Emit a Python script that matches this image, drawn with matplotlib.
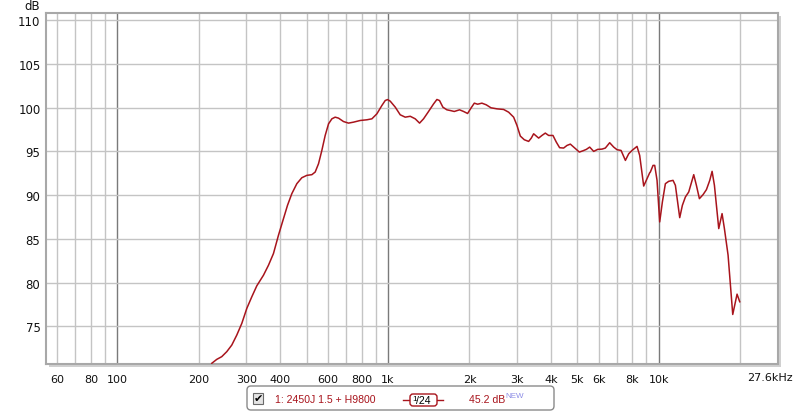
import matplotlib
matplotlib.use("Agg")
import matplotlib.pyplot as plt
from matplotlib.patches import FancyBboxPatch, Rectangle

freq_hz = [223.3, 233.0, 243.1, 253.7, 264.7, 276.2, 288.3, 300.8, 313.9, 327.5,
           346.6, 361.7, 377.4, 393.8, 411.0, 425.3, 441.2, 460.4, 480.4, 501.3,
           523.2, 538.2, 553.7, 569.6, 586.0, 603.0, 620.3, 637.9, 656.3, 684.8,
           714.6, 745.7, 789.3, 835.6, 871.9, 909.6, 949.1, 976.5, 996.1, 1018.9,
           1063.2, 1109.5, 1157.8, 1208.2, 1260.6, 1308, 1353, 1412, 1474, 1516,
           1550, 1595, 1650, 1698, 1757, 1838, 1902, 1968, 2025, 2084,
           2143, 2223, 2307, 2401, 2527, 2674, 2790, 2912, 2996, 3082,
           3188, 3308, 3384, 3452, 3531, 3602, 3705, 3812, 3922, 4069,
           4186, 4306, 4455, 4585, 4717, 4881, 5093, 5254, 5406, 5561,
           5753, 5952, 6176, 6353, 6592, 6821, 7018, 7262, 7535, 7751,
           7974, 8318, 8509, 8805, 9057, 9266, 9318, 9533, 9669, 9863,
           10088, 10321, 10588, 10892, 11300, 11529, 11962, 12236, 12553, 12914,
           13175, 13476, 13786, 14142, 14590, 15013, 15445, 15755, 16070, 16672,
           17150, 17494, 18050, 18411, 18780, 19100, 19483, 19931]
spl_db = [70.78, 71.23, 71.54, 72.11, 72.86, 74.0, 75.34, 77.05, 78.38, 79.63,
          80.84, 81.98, 83.32, 85.41, 87.31, 88.83, 90.16, 91.3, 91.98, 92.25,
          92.33, 92.63, 93.58, 95.1, 96.81, 98.14, 98.71, 98.9, 98.79, 98.4,
          98.22, 98.33, 98.52, 98.6, 98.71, 99.28, 100.23, 100.8, 100.91, 100.73,
          100.05, 99.17, 98.9, 99.0, 98.71, 98.22, 98.71, 99.55, 100.42, 100.92,
          100.8, 100.04, 99.74, 99.66, 99.55, 99.74, 99.55, 99.32, 99.93, 100.5,
          100.38, 100.5, 100.31, 99.97, 99.85, 99.78, 99.47, 98.9, 97.95, 96.74,
          96.32, 96.13, 96.51, 97.0, 96.74, 96.51, 96.81, 97.08, 96.81, 96.81,
          96.05, 95.41, 95.37, 95.67, 95.82, 95.41, 94.91, 95.06, 95.22, 95.48,
          94.99, 95.22, 95.25, 95.37, 95.98, 95.48, 95.18, 95.1, 93.96, 94.72,
          95.1, 95.56, 94.53, 91.03, 91.87, 92.55, 92.63, 93.39, 93.39, 91.68,
          86.93, 89.21, 91.3, 91.57, 91.68, 91.11, 87.42, 88.83, 89.78, 90.35,
          91.3, 92.33, 91.11, 89.59, 90.05, 90.62, 91.68, 92.71, 91.11, 86.17,
          87.88, 86.17, 83.13, 79.71, 76.36, 77.43, 78.68, 77.81]

x_tick_hz = [60, 80, 100, 200, 300, 400, 600, 800, 1000, 2000, 3000, 4000,
             5000, 6000, 8000, 10000]
x_tick_labels = ["60", "80", "100", "200", "300", "400", "600", "800", "1k",
                 "2k", "3k", "4k", "5k", "6k", "8k", "10k"]
minor_grid_hz = [60, 70, 80, 90, 200, 300, 400, 500, 600, 700, 800, 900,
                 2000, 3000, 4000, 5000, 6000, 7000, 8000, 9000, 20000]
major_grid_hz = [100, 1000, 10000]
y_ticks_db = [75, 80, 85, 90, 95, 100, 105, 110]

RED = "#a8141c"
plt.rcParams["font.family"] = ["DejaVu Sans"]

fig = plt.figure(figsize=(8, 4.14), dpi=100, facecolor="white")
ax = fig.add_axes([46 / 800, 49 / 414, 732 / 800, 351 / 414])
ax.set_xscale("log")
ax.set_xlim(54.5, 27600)
ax.set_ylim(70.7, 110.8)

for f in minor_grid_hz:
    ax.axvline(f, color="#c4c4c4", lw=1, zorder=1)
for f in major_grid_hz:
    ax.axvline(f, color="#7a7a7a", lw=1, zorder=1)
for d in y_ticks_db:
    ax.axhline(d, color="#c4c4c4", lw=1, zorder=1)

ax.plot(freq_hz, spl_db, color=RED, lw=1.1, zorder=3)

ax.set_xticks(x_tick_hz)
ax.set_xticklabels(x_tick_labels)
ax.xaxis.set_minor_locator(matplotlib.ticker.NullLocator())
ax.set_yticks(y_ticks_db)
ax.tick_params(length=0, colors="#111111")
ax.tick_params(axis="x", pad=7, labelsize=8)
ax.tick_params(axis="y", pad=4, labelsize=8.5)
for s in ax.spines.values():
    s.set_color("#a8a8a8")
    s.set_linewidth(1.5)

# frame shadow behind the plot
ov = fig.add_axes([0, 0, 1, 1], zorder=-1)
ov.set_xlim(0, 800)
ov.set_ylim(414, 0)
ov.axis("off")
ov.add_patch(Rectangle((778, 17), 3, 351, color="#d0d0d0", lw=0))
ov.add_patch(Rectangle((49, 365), 732, 3, color="#d0d0d0", lw=0))

# labels and legend box, in pixel coordinates
top = fig.add_axes([0, 0, 1, 1], zorder=5)
top.set_xlim(0, 800)
top.set_ylim(414, 0)
top.axis("off")
top.patch.set_alpha(0)
top.text(32, 6, "dB", ha="center", va="center", fontsize=8.5, color="#111111")
top.text(793, 378, "27.6kHz", ha="right", va="center", fontsize=8, color="#111111")

leg_font = ["Liberation Sans", "DejaVu Sans"]
top.add_patch(FancyBboxPatch((247, 387), 307, 24, boxstyle="round,pad=0,rounding_size=4",
                             fc="white", ec="#8a8a8a", lw=1))
top.add_patch(Rectangle((253, 394), 10, 11, fc="#e4e4e4", ec="#6a6a6a", lw=0.8))
top.text(258, 399.5, "\u2714", ha="center", va="center", fontsize=8, color="black")
top.text(275, 400.5, "1: 2450J 1.5 + H9800", ha="left", va="center", fontsize=7.6,
         color=RED, family=leg_font)
top.plot([403, 443], [401, 401], color=RED, lw=1)
top.add_patch(FancyBboxPatch((410, 395), 27, 12, boxstyle="round,pad=0,rounding_size=3",
                             fc="white", ec=RED, lw=1, zorder=3))
top.text(412.5, 399.3, "1", ha="left", va="center", fontsize=6, color="black",
         family=leg_font, zorder=4)
top.text(416.5, 401.5, "/24", ha="left", va="center", fontsize=7.6, color="black",
         family=leg_font, zorder=4)
top.text(469, 400.5, "45.2 dB", ha="left", va="center", fontsize=7.6, color=RED,
         family=leg_font)
top.text(505.5, 396.5, "NEW", ha="left", va="center", fontsize=5.8, color="#8c8ce6",
         family=leg_font)

fig.savefig("out.png", dpi=100, facecolor="white")
